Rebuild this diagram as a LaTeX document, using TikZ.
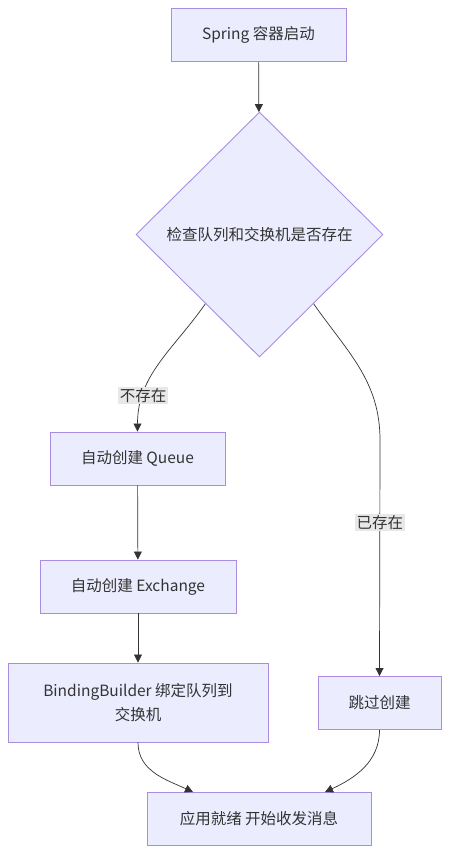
\documentclass[tikz,border=0pt]{standalone}
\usepackage{fontspec}
\setmainfont{Noto Sans CJK SC}
\usetikzlibrary{shapes.geometric,arrows.meta}

\definecolor{boxfill}{HTML}{ECECFF}
\definecolor{boxline}{HTML}{A88DE0}
\definecolor{ink}{HTML}{333333}
\definecolor{lblbg}{HTML}{E8E8E8}

\tikzset{
	stepbox/.style={draw=boxline, fill=boxfill, line width=0.9pt, text=ink, minimum height=53pt, align=center, inner sep=0pt},
	check/.style={diamond, draw=boxline, fill=boxfill, line width=0.9pt, text=ink, minimum width=247pt, minimum height=245pt, inner sep=0pt, aspect=1},
	edge/.style={draw=ink, line width=0.7pt, -{Triangle[length=8pt,width=8pt]}},
	lbl/.style={fill=lblbg, text=ink, inner sep=1.5pt}
}

\begin{document}
\begin{tikzpicture}[x=1pt,y=1pt,font=\fontsize{15.5}{24}\selectfont]
		\useasboundingbox (0,0) rectangle (450,-854);
		% boxes
		\node[stepbox, minimum width=175pt] (start) at (258.5,-35) {Spring 容器启动};
		\node[check] (dia) at (259.5,-234.5) {检查队列和交换机是否存在};
		\node[stepbox, minimum width=175pt] (q) at (137.5,-458.5) {自动创建 Queue};
		\node[stepbox, minimum width=196pt] (ex) at (138,-586.5) {自动创建 Exchange};
		\node[stepbox, minimum width=260pt, minimum height=79pt] (bb) at (138,-702.5) {BindingBuilder 绑定队列到\\交换机};
		\node[stepbox, minimum width=123pt] (skip) at (379.5,-703) {跳过创建};
		\node[stepbox, minimum width=224pt] (fin) at (259,-819) {应用就绪 开始收发消息};
		\coordinate (bend) at (380,-440);
		% connectors
		\draw[edge] (start) -- (dia);
		\draw[edge] (dia.-128) to[out=-125,in=90] node[lbl,pos=0.76]{不存在} (q.north);
		\draw[edge] (dia.-52) to[out=-55,in=90] (bend) -- node[lbl,pos=0.35]{已存在} (skip.north);
		\draw[edge] (q) -- (ex);
		\draw[edge] (ex) -- (bb);
		\draw[edge] (bb.south) to[out=-90,in=155] ([xshift=-66pt]fin.north);
		\draw[edge] (skip.south) to[out=-90,in=25] ([xshift=66pt]fin.north);
	\end{tikzpicture}
\end{document}
